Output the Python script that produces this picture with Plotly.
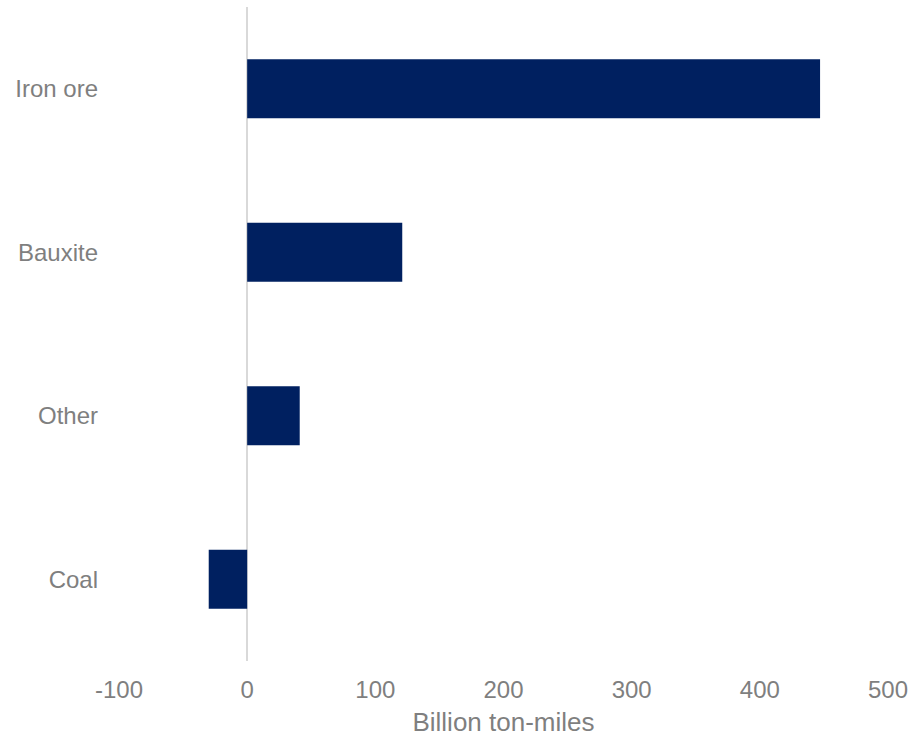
import plotly.graph_objects as go

categories = ["Iron ore", "Bauxite", "Other", "Coal"]
values = [447, 121, 41, -30]
x_ticks = [-100, 0, 100, 200, 300, 400, 500]
x_tick_labels = ["-100", "0", "100", "200", "300", "400", "500"]

fig = go.Figure(
    go.Bar(
        x=values,
        y=categories,
        orientation="h",
        width=0.36,
        marker=dict(color="#002060", line=dict(width=0)),
    )
)

fig.update_layout(
    width=915,
    height=741,
    margin=dict(l=119, r=23, t=7, b=80),
    paper_bgcolor="white",
    plot_bgcolor="white",
    font=dict(family="Liberation Sans, Arial, sans-serif", size=24, color="#7f7f7f"),
    showlegend=False,
)

fig.update_xaxes(
    range=[-100, 500],
    tickvals=x_ticks,
    ticktext=x_tick_labels,
    showgrid=False,
    zeroline=True,
    zerolinecolor="#d9d9d9",
    zerolinewidth=2,
    showline=False,
    ticks="",
    ticklabelstandoff=12,
    tickfont=dict(size=24, color="#7f7f7f"),
    title=dict(text="Billion ton-miles", font=dict(size=26, color="#7f7f7f"), standoff=10),
)

fig.update_yaxes(
    autorange="reversed",
    showgrid=False,
    showline=False,
    ticks="",
    ticklabelstandoff=20,
    tickfont=dict(size=24, color="#7f7f7f"),
)

fig.write_html("out.html")
